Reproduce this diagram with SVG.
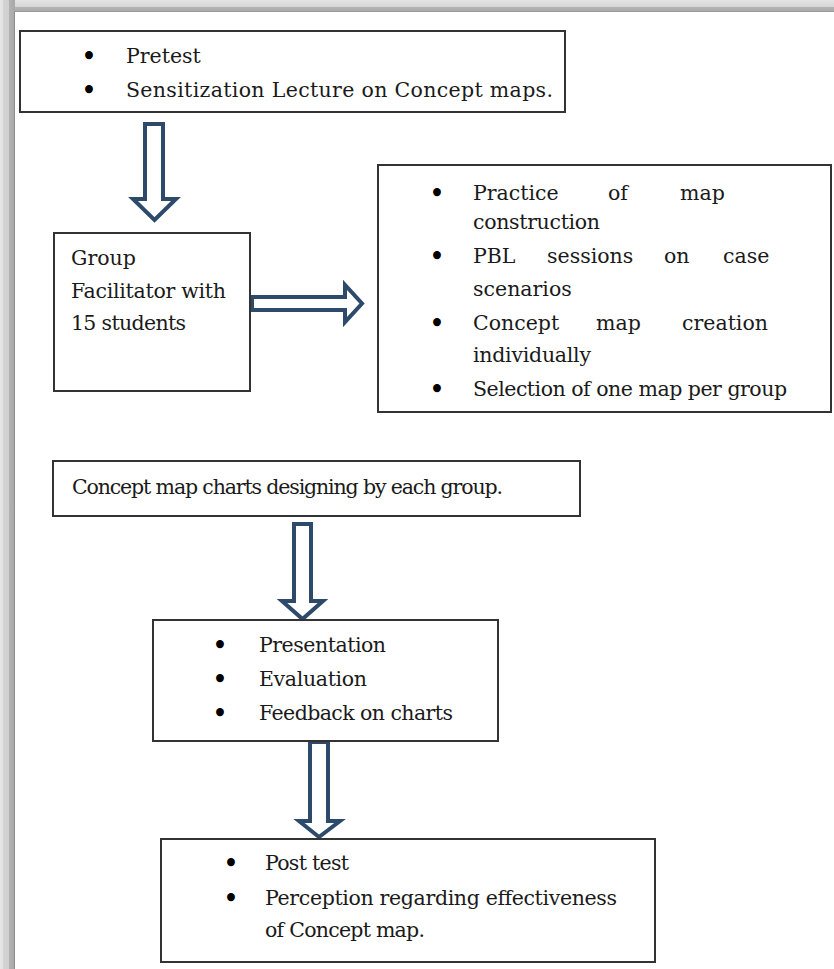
<svg xmlns="http://www.w3.org/2000/svg" width="834" height="969" viewBox="0 0 834 969">
<defs>
<linearGradient id="gTop" x1="0" y1="0" x2="0" y2="1">
<stop offset="0" stop-color="#e4e4e4"/><stop offset="0.55" stop-color="#d6d6d6"/><stop offset="0.6" stop-color="#b4b4b4"/><stop offset="1" stop-color="#a8a8a8"/>
</linearGradient>
<linearGradient id="gLeft" x1="0" y1="0" x2="1" y2="0">
<stop offset="0" stop-color="#e6e6e6"/><stop offset="0.2" stop-color="#e2e2e2"/><stop offset="0.22" stop-color="#d4d4d4"/><stop offset="0.6" stop-color="#d0d0d0"/><stop offset="0.62" stop-color="#b2b2b2"/><stop offset="1" stop-color="#a8a8a8"/>
</linearGradient>
</defs>
<style>
.box{fill:#ffffff;stroke:#333333;stroke-width:2}
.arr{fill:#ffffff;stroke:#2d4a6b;stroke-width:4;stroke-linejoin:miter}
text{font-family:"DejaVu Serif","Liberation Serif",serif;font-size:20.5px;fill:#1a1a1a}
.b{font-size:27px;fill:#000000}
</style>
<rect x="0" y="0" width="834" height="969" fill="#ffffff"/>
<rect x="0" y="0" width="834" height="12" fill="url(#gTop)"/>
<rect x="0" y="0" width="15" height="969" fill="url(#gLeft)"/>
<line x1="14.5" y1="12" x2="14.5" y2="969" stroke="#8c8c8c" stroke-width="1"/>
<line x1="14" y1="11.5" x2="834" y2="11.5" stroke="#9a9a9a" stroke-width="1"/>

<g id="connectors">
<polygon class="arr" points="145,124 163,124 163,199 176,199 154.5,220 133,199 145,199"/>
<polygon class="arr" points="252,297 345,297 345,285 362,303.5 345,322 345,310 252,310"/>
<polygon class="arr" points="294,524 311,524 311,601 323,601 302.5,619 282,601 294,601"/>
<polygon class="arr" points="310,742 328,742 328,821 340,821 319,837 299,821 310,821"/>
</g>

<g id="node-pretest">
<rect class="box" x="20" y="31" width="545" height="81"/>
<text class="b" x="81" y="66">•</text>
<text x="126" y="63">Pretest</text>
<text class="b" x="81" y="100">•</text>
<text x="126" y="97" textLength="427">Sensitization Lecture on Concept maps.</text>
</g>

<g id="node-group">
<rect class="box" x="54" y="233" width="196" height="158"/>
<text x="71" y="265">Group</text>
<text x="71" y="298" textLength="155">Facilitator with</text>
<text x="71" y="330" textLength="115">15 students</text>
</g>

<g id="node-practice">
<rect class="box" x="378" y="165" width="453" height="247"/>
<text class="b" x="429" y="203">•</text>
<text x="473" y="200">Practice</text>
<text x="608" y="200">of</text>
<text x="680" y="200">map</text>
<text x="473" y="229" textLength="127">construction</text>
<text class="b" x="429" y="266">•</text>
<text x="473" y="263">PBL</text>
<text x="547" y="263">sessions</text>
<text x="664" y="263">on</text>
<text x="723" y="263">case</text>
<text x="473" y="296">scenarios</text>
<text class="b" x="429" y="333">•</text>
<text x="473" y="330">Concept</text>
<text x="596" y="330">map</text>
<text x="682" y="330">creation</text>
<text x="473" y="362" textLength="118">individually</text>
<text class="b" x="429" y="399">•</text>
<text x="473" y="396" textLength="314">Selection of one map per group</text>
</g>

<g id="node-charts">
<rect class="box" x="53" y="461" width="527" height="55"/>
<text x="72" y="494" textLength="431">Concept map charts designing by each group.</text>
</g>

<g id="node-presentation">
<rect class="box" x="153" y="620" width="345" height="121"/>
<text class="b" x="212" y="655">•</text>
<text x="259" y="652" textLength="127">Presentation</text>
<text class="b" x="212" y="689">•</text>
<text x="259" y="686" textLength="108">Evaluation</text>
<text class="b" x="212" y="723">•</text>
<text x="259" y="720" textLength="194">Feedback on charts</text>
</g>

<g id="node-posttest">
<rect class="box" x="161" y="839" width="494" height="123"/>
<text class="b" x="223" y="873">•</text>
<text x="265" y="870" textLength="84">Post test</text>
<text class="b" x="223" y="908">•</text>
<text x="265" y="905" textLength="352">Perception regarding effectiveness</text>
<text x="265" y="937" textLength="160">of Concept map.</text>
</g>
</svg>
